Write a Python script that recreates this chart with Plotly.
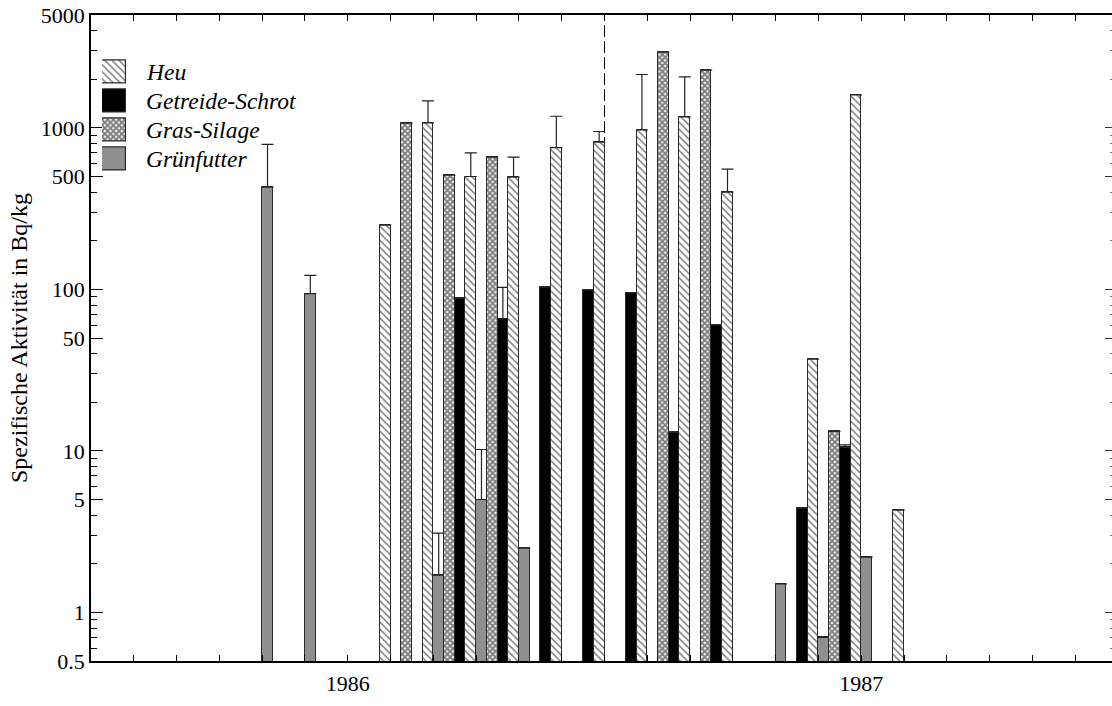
import math
import plotly.graph_objects as go

# ---------------- data ----------------
# month index: 0 = Jan 1986 ... 23 = Dec 1987
gruen_months = [4, 5, 8, 9, 10, 16, 17, 18]
gruen_values = [430, 94, 1.7, 5.0, 2.5, 1.5, 0.7, 2.2]
gruen_upper = [790, 122, 3.1, 10.2, None, None, None, None]

gras_months = [7, 8, 9, 13, 14, 17]
gras_values = [1070, 510, 660, 2940, 2280, 13.2]
gras_upper = [None, None, None, None, None, None]

getreide_months = [8, 9, 10, 11, 12, 13, 14, 16, 17]
getreide_values = [88, 66, 103, 99, 95, 13, 60, 4.4, 10.5]
getreide_upper = [None, 103, None, None, None, None, None, None, 10.9]

heu_months = [6, 7, 8, 9, 10, 11, 12, 13, 14, 16, 17, 18]
heu_values = [250, 1075, 500, 495, 755, 815, 970, 1170, 400, 37, 1600, 4.3]
heu_upper = [None, 1470, 700, 660, 1180, 950, 2140, 2070, 555, None, None, None]

legend_names = ["Heu", "Getreide-Schrot", "Gras-Silage", "Grünfutter"]
year_labels = {6: "1986", 18: "1987"}
year_boundary = 12

y_major = [0.5, 1, 5, 10, 50, 100, 500, 1000, 5000]
y_major_text = ["0.5", "1", "5", "10", "50", "100", "500", "1000", "5000"]
y_minor = [m * d for d in (0.1, 1, 10, 100, 1000) for m in (2, 3, 4, 6, 7, 8, 9)]
y_minor = [v for v in y_minor if 0.5 < v < 5000]

FONT = "Liberation Serif"
OUTLINE = "#2a2a2a"

styles = {
    "Heu": dict(color="white", pattern=dict(shape="\\", size=5, solidity=0.3,
                                             fgcolor="black", bgcolor="white", fillmode="overlay")),
    "Getreide-Schrot": dict(color="black"),
    "Gras-Silage": dict(color="white", pattern=dict(shape="x", size=4, solidity=0.72,
                                                     fgcolor="black", bgcolor="white", fillmode="overlay")),
    "Grünfutter": dict(color="#8f8f8f"),
}


def err(vals, upper):
    plus = [None if u is None else u - v for v, u in zip(vals, upper)]
    minus = [None if u is None else 0 for u in upper]
    return dict(type="data", symmetric=False, array=plus, arrayminus=minus,
                color="#222222", thickness=1.2, width=6)


fig = go.Figure()

series = [
    ("Grünfutter", gruen_months, gruen_values, gruen_upper),
    ("Gras-Silage", gras_months, gras_values, gras_upper),
    ("Getreide-Schrot", getreide_months, getreide_values, getreide_upper),
    ("Heu", heu_months, heu_values, heu_upper),
]
for name, months, vals, upper in series:
    mk = dict(styles[name])
    mk["line"] = dict(color=OUTLINE, width=1)
    fig.add_trace(go.Bar(
        x=[m + 0.5 for m in months], y=vals, name=name, marker=mk,
        error_y=err(vals, upper), showlegend=False,
    ))

# helper trace so that the right-hand tick axis is rendered
fig.add_trace(go.Scatter(x=[year_boundary], y=[1], yaxis="y2", mode="markers",
                         marker=dict(size=1, opacity=0), showlegend=False,
                         hoverinfo="skip"))

# custom legend boxes (drawn as bars on a small helper axis)
for name in legend_names:
    mk = dict(styles[name])
    mk["line"] = dict(color=OUTLINE, width=1.2)
    fig.add_trace(go.Bar(
        x=[1], y=[name], orientation="h", xaxis="x3", yaxis="y3",
        marker=mk, width=0.78, offset=-0.39, offsetgroup="leg",
        showlegend=False, hoverinfo="skip",
    ))

# legend texts
leg_y_dom = (0.7546, 0.9342)
for i, name in enumerate(legend_names):
    yc = leg_y_dom[1] - (i + 0.5) * (leg_y_dom[1] - leg_y_dom[0]) / 4
    fig.add_annotation(
        x=0.052, y=yc, xref="paper", yref="paper", xanchor="left", yanchor="middle",
        text=name, showarrow=False,
        font=dict(family=FONT, size=23.5, color="black", style="italic"),
    )

# year boundary dashed line
fig.add_shape(type="line", x0=year_boundary, x1=year_boundary, y0=0, y1=1,
              xref="x", yref="paper", layer="below",
              line=dict(color="black", width=1, dash="12px,4px"))

yrange = [math.log10(0.5), math.log10(5000)]
xt = list(range(0, 25))
fig.update_layout(
    width=1112, height=706,
    margin=dict(l=91, r=0, t=15, b=45),
    paper_bgcolor="white", plot_bgcolor="white",
    barmode="group", bargap=0, bargroupgap=0,
    font=dict(family=FONT, size=22, color="black"),
    xaxis=dict(
        range=[0, 23.86], tickmode="array", tickvals=xt,
        ticktext=[year_labels.get(t, "") for t in xt],
        ticks="inside", ticklen=6, tickwidth=1.2, tickcolor="black",
        showline=True, linecolor="black", linewidth=1.5, mirror="ticks",
        showgrid=False, zeroline=False, ticklabelstandoff=2,
        tickfont=dict(family=FONT, size=22),
    ),
    yaxis=dict(
        type="log", range=yrange,
        tickmode="array", tickvals=y_major, ticktext=y_major_text,
        ticks="inside", ticklen=12, tickwidth=1.2, tickcolor="black",
        minor=dict(tickmode="array", tickvals=y_minor, ticks="inside", ticklen=6,
                   tickwidth=1, tickcolor="black", showgrid=False),
        showline=True, linecolor="black", linewidth=1.5, mirror=False,
        showgrid=False, zeroline=False, ticklabeloverflow="allow",
        title=dict(text="Spezifische Aktivität in Bq/kg", font=dict(family=FONT, size=24),
                   standoff=6),
        tickfont=dict(family=FONT, size=22),
    ),
    yaxis2=dict(
        type="log", range=yrange, overlaying="y", side="right", anchor="x",
        tickmode="array", tickvals=y_major, showticklabels=False,
        ticks="inside", ticklen=7, tickwidth=1.2, tickcolor="#333333",
        minor=dict(tickmode="array", tickvals=y_minor, ticks="inside", ticklen=2,
                   tickwidth=1, tickcolor="#777777", showgrid=False),
        showline=False, showgrid=False, zeroline=False, fixedrange=True,
    ),
    xaxis3=dict(domain=[0.0108, 0.0343], range=[0, 1], visible=False, anchor="y3",
                fixedrange=True),
    yaxis3=dict(domain=list(leg_y_dom), type="category", categoryorder="array",
                categoryarray=legend_names, autorange="reversed", visible=False,
                anchor="x3", fixedrange=True),
)

fig.write_html("out.html", config={"displayModeBar": False},
               post_script="document.body.style.margin='0';document.body.style.overflow='hidden';")
